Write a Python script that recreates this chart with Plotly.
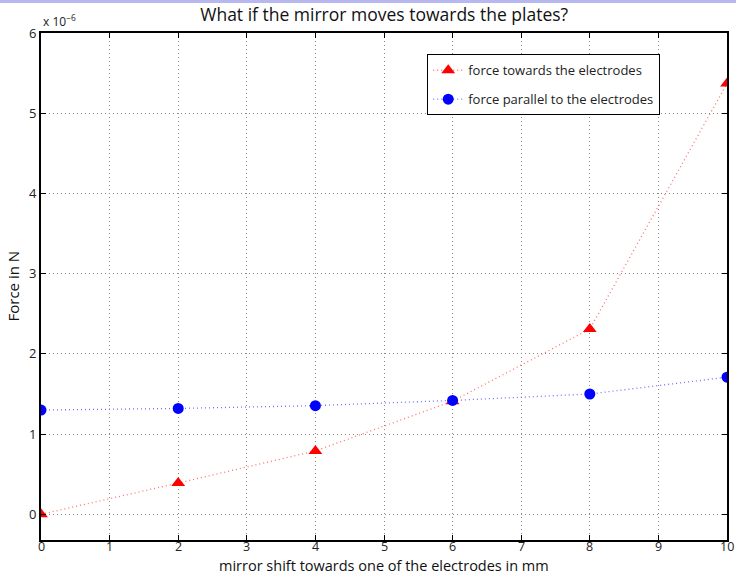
import plotly.graph_objects as go

# mirror shift (mm)
shift_mm = [0, 2, 4, 6, 8, 10]
# forces, in units of 1e-6 N
force_towards = [0.0, 0.39, 0.79, 1.41, 2.31, 5.37]
force_parallel = [1.30, 1.32, 1.355, 1.42, 1.50, 1.71]

x_ticks = [0, 1, 2, 3, 4, 5, 6, 7, 8, 9, 10]
y_ticks = [0, 1, 2, 3, 4, 5, 6]

FONT = "Open Sans"
tick_font = dict(family=FONT, size=13, color="#222222")
x_tick_font = dict(family=FONT, size=12.5, color="#222222")

fig = go.Figure()
fig.add_trace(go.Scatter(
    x=shift_mm, y=force_towards, mode="lines+markers",
    name="force towards the electrodes", legendgroup="a",
    line=dict(color="#ff7070", width=1.3, dash="1px,3px"),
    marker=dict(symbol="triangle-up", size=12, color="#ff0000"),
))
fig.add_trace(go.Scatter(
    x=shift_mm, y=force_parallel, mode="lines+markers",
    name="force parallel to the electrodes", legendgroup="b",
    line=dict(color="#7070ff", width=1.3, dash="1px,3px"),
    marker=dict(symbol="circle", size=11, color="#0000ff"),
))

axis_common = dict(
    showline=True, linecolor="black", linewidth=2, mirror="ticks",
    ticks="inside", ticklen=5, tickcolor="black", tickwidth=1,
    showgrid=True, gridcolor="#8a8a8a", gridwidth=1, griddash="1px,3px",
    zeroline=False, automargin=False, tickfont=tick_font,
)

# x tick labels are drawn as annotations so they sit tight under the axis
fig.update_xaxes(range=[0, 10], tickvals=x_ticks, showticklabels=False,
                 **axis_common)
fig.update_yaxes(range=[-0.32, 6], tickvals=y_ticks, **axis_common)

x_tick_labels = [
    dict(text=str(v), xref="x", yref="paper", x=v, y=0, xanchor="center",
         yanchor="top", yshift=4, showarrow=False, font=x_tick_font)
    for v in x_ticks
]

fig.update_layout(
    width=736, height=577,
    margin=dict(l=41, r=9, t=33, b=37),
    paper_bgcolor="white", plot_bgcolor="white",
    title=dict(text="What if the mirror moves towards the plates?",
               x=0.522, xanchor="center", y=0.975, yanchor="middle",
               font=dict(family=FONT, size=17.5, color="#111111")),
    showlegend=True,
    legend=dict(x=0.563, y=0.958, xanchor="left", yanchor="top",
                bgcolor="white", bordercolor="black", borderwidth=1,
                font=dict(family=FONT, size=13, color="#222222"),
                itemwidth=30, tracegroupgap=9),
    annotations=x_tick_labels + [
        dict(text="x 10<sup>−6</sup>", xref="paper", yref="paper",
             x=0.0, y=1.0, xanchor="left", yanchor="bottom",
             showarrow=False, yshift=1,
             font=dict(family=FONT, size=12, color="#222222")),
        dict(text="mirror shift towards one of the electrodes in mm",
             xref="paper", yref="paper", x=0.5, y=0, xanchor="center",
             yanchor="bottom", yshift=-37, showarrow=False,
             font=dict(family=FONT, size=14.5, color="#111111")),
        dict(text="Force in N", xref="paper", yref="paper", x=0, y=0.5,
             xanchor="right", yanchor="middle", xshift=-17, textangle=-90,
             showarrow=False, font=dict(family=FONT, size=15, color="#111111")),
    ],
    shapes=[dict(type="rect", xref="paper", yref="paper",
                 x0=-0.1, x1=1.1, y0=1 + 30 / 507, y1=1 + 34 / 507,
                 fillcolor="#b8b8f0", line=dict(width=0), layer="below")],
)

fig.write_html("out.html")
